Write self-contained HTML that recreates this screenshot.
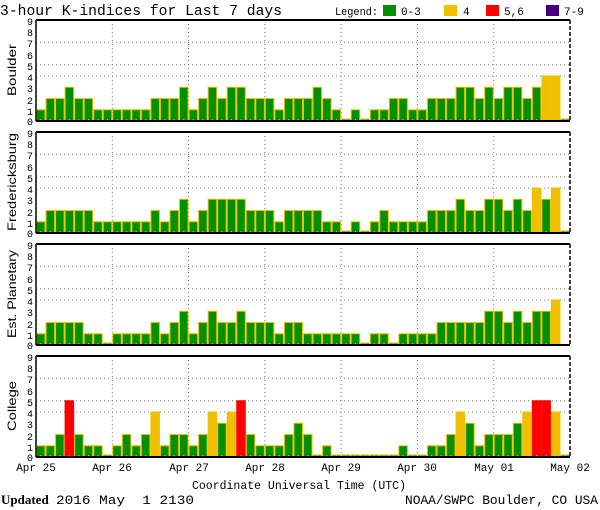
<!DOCTYPE html>
<html><head><meta charset="utf-8"><style>
body{margin:0;background:#fff;width:600px;height:510px;overflow:hidden}
svg{display:block;font-family:"Liberation Mono",monospace}
</style></head><body>
<svg id="s" width="600" height="510" xmlns="http://www.w3.org/2000/svg">
<rect width="600" height="510" fill="#fff"/>
<text x="0" y="15" font-size="15" textLength="282" lengthAdjust="spacingAndGlyphs">3-hour K-indices for Last 7 days</text>
<text x="335" y="15" font-size="11" textLength="43" lengthAdjust="spacingAndGlyphs">Legend:</text>
<rect x="383" y="5" width="13" height="11" fill="#009000"/><text x="401" y="15" font-size="11">0-3</text>
<rect x="444" y="5" width="13" height="11" fill="#f0c000"/><text x="463" y="15" font-size="11">4</text>
<rect x="486" y="5" width="13" height="11" fill="#ff0000"/><text x="504" y="15" font-size="11">5,6</text>
<rect x="546" y="5" width="13" height="11" fill="#400080"/><text x="564" y="15" font-size="11">7-9</text>
<g id="g"></g>
<g font-size="10" text-anchor="end">
<text x="33" y="25">9</text><text x="33" y="36">8</text><text x="33" y="47">7</text><text x="33" y="59">6</text><text x="33" y="70">5</text><text x="33" y="81">4</text><text x="33" y="92">3</text><text x="33" y="104">2</text><text x="33" y="115">1</text><text x="33" y="125">0</text>
<text x="33" y="137">9</text><text x="33" y="148">8</text><text x="33" y="159">7</text><text x="33" y="171">6</text><text x="33" y="182">5</text><text x="33" y="193">4</text><text x="33" y="204">3</text><text x="33" y="216">2</text><text x="33" y="227">1</text><text x="33" y="237">0</text>
<text x="33" y="249">9</text><text x="33" y="260">8</text><text x="33" y="271">7</text><text x="33" y="283">6</text><text x="33" y="294">5</text><text x="33" y="305">4</text><text x="33" y="316">3</text><text x="33" y="328">2</text><text x="33" y="339">1</text><text x="33" y="349">0</text>
<text x="33" y="361">9</text><text x="33" y="372">8</text><text x="33" y="383">7</text><text x="33" y="395">6</text><text x="33" y="406">5</text><text x="33" y="417">4</text><text x="33" y="428">3</text><text x="33" y="440">2</text><text x="33" y="451">1</text><text x="33" y="461">0</text>
</g>
<g font-size="12" text-anchor="middle" font-family="Liberation Sans,sans-serif">
<text transform="translate(16,70) rotate(-90)" textLength="52" lengthAdjust="spacingAndGlyphs">Boulder</text>
<text transform="translate(16,182) rotate(-90)" textLength="98" lengthAdjust="spacingAndGlyphs">Fredericksburg</text>
<text transform="translate(16,294) rotate(-90)" textLength="88" lengthAdjust="spacingAndGlyphs">Est. Planetary</text>
<text transform="translate(16,406) rotate(-90)" textLength="50" lengthAdjust="spacingAndGlyphs">College</text>
</g>
<g font-size="11" text-anchor="middle">
<text x="36" y="471">Apr 25</text><text x="112" y="471">Apr 26</text><text x="189" y="471">Apr 27</text><text x="265" y="471">Apr 28</text><text x="341" y="471">Apr 29</text><text x="417" y="471">Apr 30</text><text x="494" y="471">May 01</text><text x="570" y="471">May 02</text>
<text x="299" y="489" font-size="12" textLength="214" lengthAdjust="spacingAndGlyphs">Coordinate Universal Time (UTC)</text>
</g>
<text x="1" y="504" font-size="13" font-family="Liberation Serif,serif" font-weight="bold">Updated</text>
<text x="56" y="504" font-size="13" xml:space="preserve" textLength="138" lengthAdjust="spacingAndGlyphs">2016 May  1 2130</text>
<text x="598" y="504" font-size="13" text-anchor="end" textLength="193" lengthAdjust="spacingAndGlyphs">NOAA/SWPC Boulder, CO USA</text>
</svg>
<script>
var D=[
[1,2,2,3,2,2,1,1, 1,1,1,1,2,2,2,3, 1,2,3,2,3,3,2,2, 2,1,2,2,2,3,2,1, 0,1,0,1,1,2,2,1, 1,2,2,2,3,3,2,3, 2,3,3,2,3,4,4,0],
[1,2,2,2,2,2,1,1, 1,1,1,1,2,1,2,3, 1,2,3,3,3,3,2,2, 2,1,2,2,2,2,1,1, 0,1,0,1,2,1,1,1, 1,2,2,2,3,2,2,3, 3,2,3,2,4,3,4,0],
[1,2,2,2,2,1,1,0, 1,1,1,1,2,1,2,3, 1,2,3,2,2,3,2,2, 2,1,2,2,1,1,1,1, 1,1,0,1,1,0,1,1, 1,1,2,2,2,2,2,3, 3,2,3,2,3,3,4,null],
[1,1,2,5,2,1,1,0, 1,2,1,2,4,1,2,2, 1,2,4,3,4,5,2,1, 1,1,2,3,2,0,1,0, 0,0,0,0,0,0,1,0, 0,1,1,2,4,3,1,2, 2,2,3,4,5,5,4,0]];
var tops=[20,132,244,356],x0=36,x1=570,bw=(x1-x0)/56,h="";
function col(v){return v>=7?"#400080":v>=5?"#ff0000":v==4?"#f0c000":"#009000"}
for(var p=0;p<4;p++){var t=tops[p],b=t+101;
 [4,5,7].forEach(function(k){var y=b-k*11.25;h+='<line x1="'+x0+'" x2="'+x1+'" y1="'+y+'" y2="'+y+'" stroke="#777" stroke-dasharray="1,3"/>'});
 for(var d=1;d<7;d++){var x=x0+d*(x1-x0)/7;h+='<line x1="'+x+'" x2="'+x+'" y1="'+t+'" y2="'+b+'" stroke="#777" stroke-dasharray="1,3"/>'}
 for(var i=0;i<56;i++){var v=D[p][i];if(v===null)continue;var x=x0+i*bw,hh=v==0?2:v*11.25;
  var c=col(v);h+='<rect x="'+(x+0.5)+'" y="'+(b-hh)+'" width="'+(bw-1)+'" height="'+hh+'" fill="'+c+'" stroke="'+(c=="#009000"?"#f0c000":c)+'" stroke-width="1"/>';
  h+='<rect x="'+(x+bw/2-0.5)+'" y="'+(b-2)+'" width="1" height="2" fill="#f0c000"/>'}
 h+='<line x1="'+x0+'" x2="'+x1+'" y1="'+t+'" y2="'+t+'" stroke="#000" stroke-width="2"/>';
 h+='<line x1="'+x0+'" x2="'+x1+'" y1="'+b+'" y2="'+b+'" stroke="#000" stroke-width="2"/>';
 h+='<line x1="'+x0+'" x2="'+x0+'" y1="'+t+'" y2="'+b+'" stroke="#000" stroke-width="1.5"/>';
 h+='<line x1="'+x1+'" x2="'+x1+'" y1="'+t+'" y2="'+b+'" stroke="#000" stroke-width="1.5" stroke-dasharray="4,2"/>';
}
document.getElementById("g").innerHTML=h;
</script>
</body></html>
